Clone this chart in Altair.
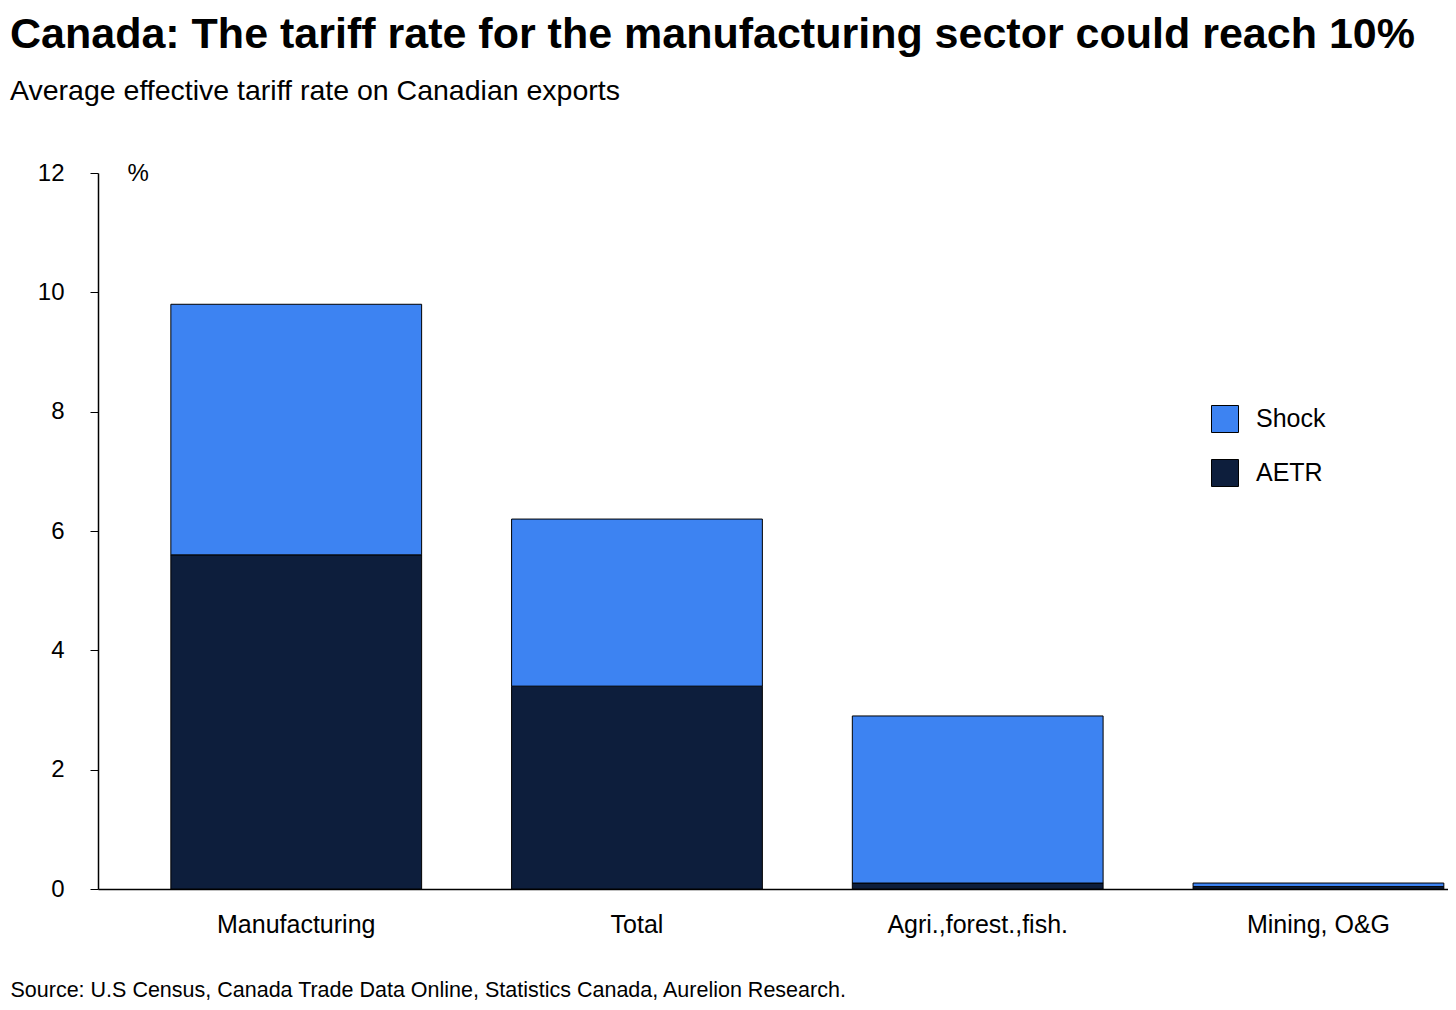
import pandas as pd
import altair as alt

# data
sectors = ["Manufacturing", "Total", "Agri.,forest.,fish.", "Mining, O&G"]
aetr = [5.6, 3.4, 0.1, 0.04]
shock = [4.2, 2.8, 2.8, 0.06]

series = ["Shock", "AETR"]
colors = ["#3D83F2", "#0D1E3C"]

rows = []
for s, a, sh in zip(sectors, aetr, shock):
    rows.append({"Sector": s, "Series": "AETR", "Value": a, "Rank": 0})
    rows.append({"Sector": s, "Series": "Shock", "Value": sh, "Rank": 1})
df = pd.DataFrame(rows)

font = "Liberation Sans"

chart = alt.Chart(df).mark_bar(stroke="black", strokeWidth=1).encode(
    x=alt.X(
        "Sector:N",
        sort=sectors,
        scale=alt.Scale(paddingInner=0.264, paddingOuter=0.113, align=0.946),
        axis=alt.Axis(
            title="Source: U.S Census, Canada Trade Data Online, Statistics Canada, Aurelion Research.",
            titleX=-88, titleY=90, titleAlign="left", titleBaseline="top",
            titleFont=font, titleFontSize=21.5, titleFontWeight="normal", titleColor="black",
            labelAngle=0, labelFont=font, labelFontSize=25, labelColor="black",
            labelPadding=23, labelLimit=400, ticks=False,
            domainColor="black", domainWidth=1.5,
        ),
    ),
    y=alt.Y(
        "Value:Q",
        stack="zero",
        scale=alt.Scale(domain=[0, 12]),
        axis=alt.Axis(
            values=[0, 2, 4, 6, 8, 10, 12], grid=False,
            title="%", titleAngle=0, titleX=29, titleY=0, titleAlign="left",
            titleBaseline="middle", titleFont=font, titleFontSize=24,
            titleFontWeight="normal", titleColor="black",
            labelFont=font, labelFontSize=24, labelColor="black", labelPadding=26,
            tickSize=8, tickColor="black", domainColor="black", domainWidth=1.5,
        ),
    ),
    color=alt.Color(
        "Series:N",
        scale=alt.Scale(domain=series, range=colors),
        legend=alt.Legend(
            title=None, orient="none", legendX=1113, legendY=232, padding=0,
            symbolType="square", symbolSize=729, symbolStrokeColor="black",
            symbolStrokeWidth=1, symbolOpacity=1, labelFont=font, labelFontSize=25,
            labelColor="black", labelOffset=17, rowPadding=22,
        ),
    ),
    order=alt.Order("Rank:Q"),
).properties(
    width=1350,
    height=716,
    autosize=alt.AutoSizeParams(type="none"),
    padding={"left": 90, "top": 165, "right": 0, "bottom": 130},
    title=alt.TitleParams(
        "Canada: The tariff rate for the manufacturing sector could reach 10%",
        subtitle="Average effective tariff rate on Canadian exports",
        anchor="start", frame="group", dx=-88, offset=56,
        font=font, fontSize=43, fontWeight="bold", color="black",
        subtitleFont=font, subtitleFontSize=28.5, subtitleColor="black",
        subtitlePadding=20,
    ),
).configure_view(strokeWidth=0)

chart.save("out.html", embed_options={"renderer": "svg", "actions": False})
